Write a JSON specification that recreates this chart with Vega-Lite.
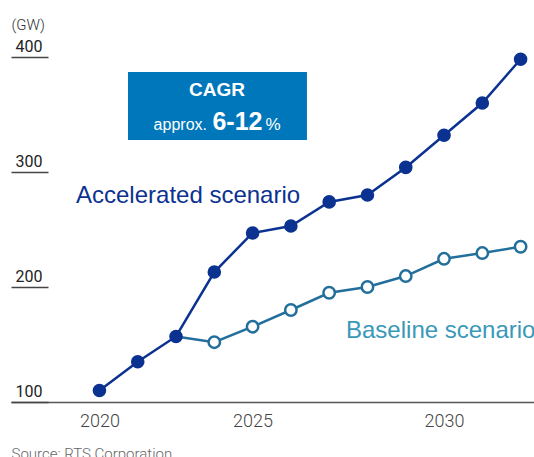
{
  "$schema": "https://vega.github.io/schema/vega-lite/v6.json",
  "width": 523,
  "height": 345,
  "autosize": {"type": "none"},
  "padding": {"left": 11, "top": 57, "right": 0, "bottom": 55},
  "background": "white",
  "config": {"view": {"stroke": null}},
  "datasets": {
    "series": [
      {"scenario": "Accelerated", "year": 2020, "value": 110},
      {"scenario": "Accelerated", "year": 2021, "value": 135},
      {"scenario": "Accelerated", "year": 2022, "value": 157},
      {"scenario": "Accelerated", "year": 2023, "value": 213},
      {"scenario": "Accelerated", "year": 2024, "value": 247},
      {"scenario": "Accelerated", "year": 2025, "value": 253},
      {"scenario": "Accelerated", "year": 2026, "value": 274},
      {"scenario": "Accelerated", "year": 2027, "value": 280},
      {"scenario": "Accelerated", "year": 2028, "value": 304},
      {"scenario": "Accelerated", "year": 2029, "value": 332},
      {"scenario": "Accelerated", "year": 2030, "value": 360},
      {"scenario": "Accelerated", "year": 2031, "value": 398},
      {"scenario": "Baseline", "year": 2022, "value": 157},
      {"scenario": "Baseline", "year": 2023, "value": 152},
      {"scenario": "Baseline", "year": 2024, "value": 165.5},
      {"scenario": "Baseline", "year": 2025, "value": 180},
      {"scenario": "Baseline", "year": 2026, "value": 195},
      {"scenario": "Baseline", "year": 2027, "value": 200},
      {"scenario": "Baseline", "year": 2028, "value": 209.5},
      {"scenario": "Baseline", "year": 2029, "value": 224.5},
      {"scenario": "Baseline", "year": 2030, "value": 229.5},
      {"scenario": "Baseline", "year": 2031, "value": 235}
    ],
    "one": [{"k": 1}]
  },
  "layer": [
    {
      "data": {"name": "series"},
      "transform": [{"filter": "datum.scenario == 'Baseline'"}],
      "mark": {"type": "line", "color": "#236f9c", "strokeWidth": 2.5},
      "encoding": {
        "x": {
          "field": "year",
          "type": "quantitative",
          "scale": {"domain": [2017.69, 2031.35], "nice": false, "zero": false},
          "axis": {
            "values": [2020, 2024, 2029],
            "labelExpr": "datum.value == 2020 ? '2020' : (datum.value == 2024 ? '2025' : '2030')",
            "ticks": false,
            "grid": false,
            "domain": true,
            "domainColor": "#555555",
            "domainWidth": 1.5,
            "labelFont": "Roboto",
            "labelFontSize": 18,
            "labelFontWeight": 300,
            "labelColor": "#444444",
            "labelPadding": 10,
            "labelFlush": false,
            "title": "Source: RTS Corporation",
            "titleX": 0,
            "titleY": 56,
            "titleAlign": "left",
            "titleAnchor": "start",
            "titleBaseline": "alphabetic",
            "titleFont": "Roboto",
            "titleFontSize": 15,
            "titleFontWeight": 300,
            "titleColor": "#666666"
          }
        },
        "y": {
          "field": "value",
          "type": "quantitative",
          "scale": {"domain": [100, 400], "nice": false, "zero": false},
          "axis": {
            "values": [100, 200, 300, 400],
            "grid": false,
            "domain": false,
            "tickSize": -37,
            "tickColor": "#444444",
            "tickWidth": 1.5,
            "labelAlign": "left",
            "labelBaseline": "alphabetic",
            "labelPadding": 33,
            "labelOffset": -6,
            "labelFont": "Roboto",
            "labelFontSize": 16,
            "labelColor": "#222222",
            "title": "(GW)",
            "titleAngle": 0,
            "titleX": 0,
            "titleY": -28,
            "titleAlign": "left",
            "titleBaseline": "alphabetic",
            "titleFont": "Roboto",
            "titleFontSize": 15,
            "titleFontWeight": 300,
            "titleColor": "#333333"
          }
        }
      }
    },
    {
      "data": {"name": "series"},
      "transform": [{"filter": "datum.scenario == 'Accelerated'"}],
      "mark": {"type": "line", "color": "#0c3291", "strokeWidth": 2.5},
      "encoding": {
        "x": {"field": "year", "type": "quantitative"},
        "y": {"field": "value", "type": "quantitative"}
      }
    },
    {
      "data": {"name": "series"},
      "transform": [{"filter": "datum.scenario == 'Baseline' && datum.year >= 2023"}],
      "mark": {"type": "point", "shape": "circle", "filled": true, "fill": "white", "stroke": "#236f9c", "strokeWidth": 2.5, "size": 130, "opacity": 1},
      "encoding": {
        "x": {"field": "year", "type": "quantitative"},
        "y": {"field": "value", "type": "quantitative"}
      }
    },
    {
      "data": {"name": "series"},
      "transform": [{"filter": "datum.scenario == 'Accelerated'"}],
      "mark": {"type": "point", "shape": "circle", "filled": true, "color": "#0c3291", "size": 185, "opacity": 1},
      "encoding": {
        "x": {"field": "year", "type": "quantitative"},
        "y": {"field": "value", "type": "quantitative"}
      }
    },
    {
      "data": {"name": "one"},
      "mark": {"type": "rect", "color": "#0177bb"},
      "encoding": {
        "x": {"datum": 2020.746, "type": "quantitative"},
        "x2": {"datum": 2025.42},
        "y": {"datum": 386.96, "type": "quantitative"},
        "y2": {"datum": 327.8}
      }
    },
    {
      "data": {"name": "one"},
      "mark": {"type": "text", "text": "CAGR", "font": "Liberation Sans", "fontSize": 19, "fontWeight": "bold", "color": "white", "align": "center", "baseline": "alphabetic"},
      "encoding": {"x": {"datum": 2023.07, "type": "quantitative"}, "y": {"datum": 366.1, "type": "quantitative"}}
    },
    {
      "data": {"name": "one"},
      "mark": {"type": "text", "text": "approx.", "font": "Liberation Sans", "fontSize": 16, "color": "white", "align": "right", "baseline": "alphabetic"},
      "encoding": {"x": {"datum": 2022.809, "type": "quantitative"}, "y": {"datum": 336.5, "type": "quantitative"}}
    },
    {
      "data": {"name": "one"},
      "mark": {"type": "text", "text": "6-12", "font": "Liberation Sans", "fontSize": 25, "fontWeight": "bold", "color": "white", "align": "center", "baseline": "alphabetic"},
      "encoding": {"x": {"datum": 2023.605, "type": "quantitative"}, "y": {"datum": 336.5, "type": "quantitative"}}
    },
    {
      "data": {"name": "one"},
      "mark": {"type": "text", "text": "%", "font": "Liberation Sans", "fontSize": 17, "color": "white", "align": "left", "baseline": "alphabetic"},
      "encoding": {"x": {"datum": 2024.34, "type": "quantitative"}, "y": {"datum": 336.5, "type": "quantitative"}}
    },
    {
      "data": {"name": "one"},
      "mark": {"type": "text", "text": "Accelerated scenario", "font": "Liberation Sans", "fontSize": 24, "color": "#0c3291", "align": "left", "baseline": "alphabetic"},
      "encoding": {"x": {"datum": 2019.388, "type": "quantitative"}, "y": {"datum": 273.0, "type": "quantitative"}}
    },
    {
      "data": {"name": "one"},
      "mark": {"type": "text", "text": "Baseline scenario", "font": "Liberation Sans", "fontSize": 24, "color": "#3a98b9", "align": "left", "baseline": "alphabetic"},
      "encoding": {"x": {"datum": 2026.44, "type": "quantitative"}, "y": {"datum": 155.65, "type": "quantitative"}}
    }
  ]
}
